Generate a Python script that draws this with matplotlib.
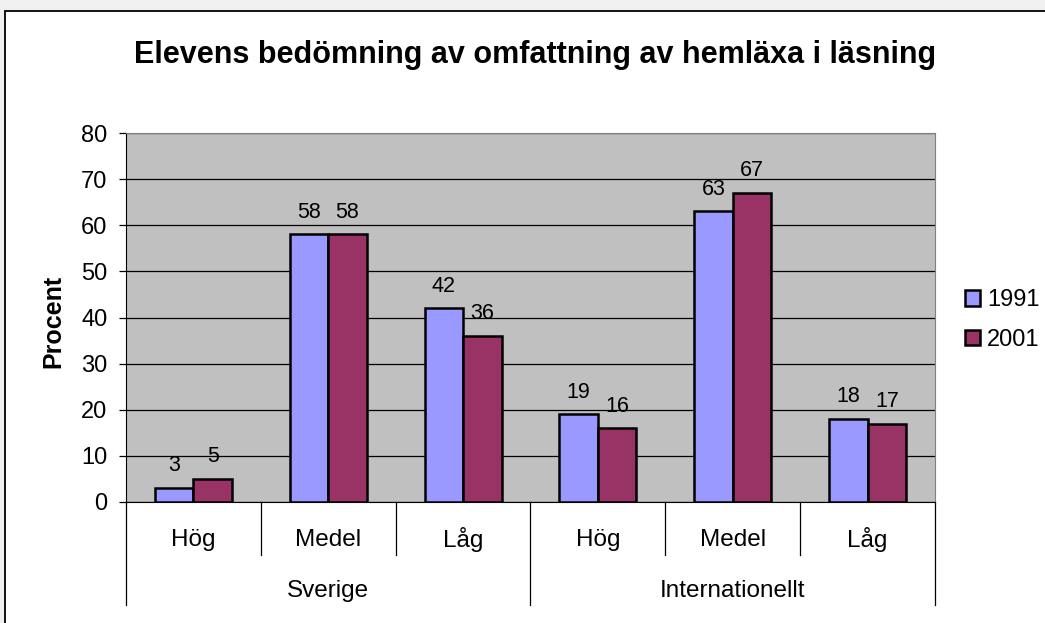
import numpy as np
import matplotlib.pyplot as plt
from matplotlib.patches import Rectangle
from matplotlib.transforms import blended_transform_factory

title = "Elevens bedömning av omfattning av hemläxa i läsning"
categories = ["Hög", "Medel", "Låg", "Hög", "Medel", "Låg"]
groups = ["Sverige", "Internationellt"]
group_size = 3
years = ["1991", "2001"]
values_1991 = [3, 58, 42, 19, 63, 18]
values_2001 = [5, 58, 36, 16, 67, 17]
colors = ["#9999FF", "#993366"]

plt.rcParams['font.family'] = ['Liberation Sans', 'DejaVu Sans']

fig = plt.figure(figsize=(10.45, 6.23), dpi=100)
fig.patch.set_facecolor("#F0F0F0")

# white chart area with black border (runs off right/bottom edge)
fig.patches.append(Rectangle((5 / 1045, -0.05), 1.1, 1 - 11 / 623 + 0.05,
                             transform=fig.transFigure, facecolor="white",
                             edgecolor="black", linewidth=1.3, zorder=-10))

ax = fig.add_axes([126 / 1045, 1 - 502 / 623, (935 - 126) / 1045, (502 - 133) / 623])
ax.set_zorder(1)
ax.set_facecolor("#C0C0C0")

x = np.arange(len(categories))
w = 0.286
for i, (vals, yr) in enumerate(zip([values_1991, values_2001], years)):
    pos = x + (i - 0.5) * w
    ax.bar(pos, vals, w, color=colors[i], edgecolor="black", linewidth=1.8,
           label=yr, zorder=3)
    for xp, v in zip(pos, vals):
        ax.annotate(str(v), (xp, v), xytext=(0, 12), textcoords="offset points",
                    ha="center", va="baseline", fontsize=15.5)

ax.set_xlim(-0.5, len(categories) - 0.5)
ax.set_ylim(0, 80)
ax.set_yticks(np.arange(0, 81, 10))
ax.yaxis.grid(True, color="black", linewidth=0.9, zorder=0)
ax.set_axisbelow(True)
ax.tick_params(axis="y", labelsize=17, length=5, width=0.9, direction="out", pad=8.5)
ax.set_xticks([])
for s in ["top", "right"]:
    ax.spines[s].set_color("#808080")
for s in ["left", "bottom"]:
    ax.spines[s].set_color("black")
fig.text(53 / 1045, 1 - 321 / 623, "Procent", rotation=90, ha="center", va="center",
         fontsize=18, fontweight="bold")

# two-level category axis
tr = blended_transform_factory(ax.transData, ax.transAxes)
y_cat = -53 / 369
y_grp = -103 / 369
for i, c in enumerate(categories):
    ax.text(i, -38 / 369, c, transform=tr, ha="center", va="center", fontsize=17.5)
for b in range(len(categories) + 1):
    xb = b - 0.5
    low = y_grp if b % group_size == 0 else y_cat
    ax.plot([xb, xb], [0, low], transform=tr, color="black", linewidth=0.9,
            clip_on=False)
for g, name in enumerate(groups):
    xc = g * group_size + (group_size - 1) / 2
    ax.text(xc, -89 / 369, name, transform=tr, ha="center", va="center", fontsize=17.5)

fig.text(535 / 1045, 1 - 55 / 623, title, ha="center", va="center",
         fontsize=22, fontweight="bold")

fig.legend(loc="center left", bbox_to_anchor=(953 / 1045, 1 - 320 / 623),
           frameon=False, fontsize=17, handlelength=0.65, handleheight=0.65,
           handletextpad=0.3, labelspacing=0.75, borderpad=0)

fig.savefig("out.png", dpi=100, facecolor=fig.get_facecolor())
